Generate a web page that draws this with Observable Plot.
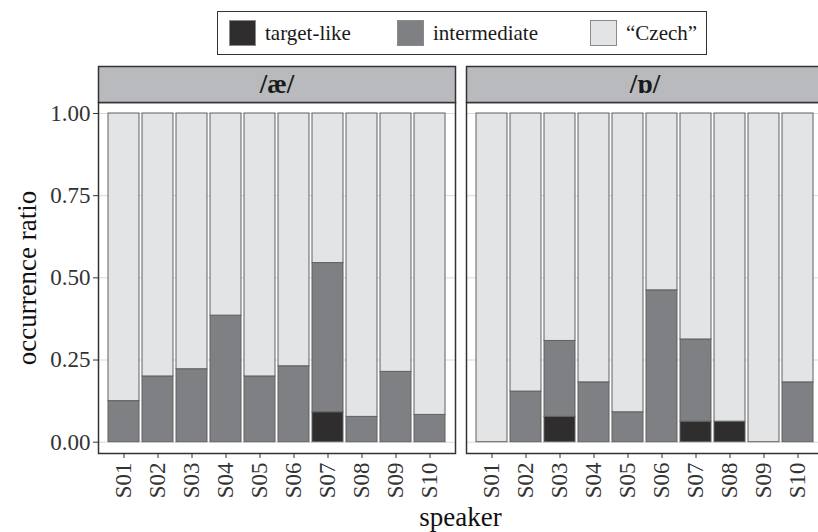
<!DOCTYPE html>
<html>
<head>
<meta charset="utf-8">
<script src="https://cdn.jsdelivr.net/npm/d3@7"></script>
<script src="https://cdn.jsdelivr.net/npm/@observablehq/plot@0.6"></script>
<style>
html, body { margin: 0; padding: 0; background: #fff; overflow: hidden; width: 818px; height: 532px; }
#legend { position: relative; height: 60px; font-family: "Liberation Serif", Tinos, "Times New Roman", Times, serif; font-size: 21px; color: #1a1a1a; }
#legend .box { position: absolute; left: 217px; top: 11px; width: 490px; height: 44px; border: 1.5px solid #333; box-sizing: border-box; }
#legend .item { position: absolute; top: 8px; display: flex; align-items: center; white-space: nowrap; }
#legend .sw { width: 27px; height: 26px; box-sizing: border-box; border: 1px solid #8a8a8a; margin-right: 9px; }
#chart svg { max-width: none !important; display: block; overflow: visible; }
#chart svg text { font-family: "Liberation Serif", Tinos, "Times New Roman", Times, serif; }
</style>
</head>
<body>
<div id="legend"><div class="box"></div></div>
<div id="chart"></div>
<script>
const speakers = ["S01", "S02", "S03", "S04", "S05", "S06", "S07", "S08", "S09", "S10"];
const vowels = ["/æ/", "/ɒ/"];
const categories = ["target-like", "intermediate", "“Czech”"];
const colors = ["#2f2d2e", "#7f8083", "#e3e4e6"];

// /æ/ panel
const aeTarget       = [0, 0, 0, 0, 0, 0, 0.091, 0, 0, 0];
const aeIntermediate = [0.125, 0.2, 0.222, 0.385, 0.2, 0.231, 0.454, 0.077, 0.214, 0.083];
const aeCzech        = [0.875, 0.8, 0.778, 0.615, 0.8, 0.769, 0.455, 0.923, 0.786, 0.917];

// /ɒ/ panel
const oTarget        = [0, 0, 0.077, 0, 0, 0, 0.0625, 0.0625, 0, 0];
const oIntermediate  = [0, 0.154, 0.231, 0.182, 0.091, 0.462, 0.25, 0, 0, 0.182];
const oCzech         = [1, 0.846, 0.692, 0.818, 0.909, 0.538, 0.6875, 0.9375, 1, 0.818];

const yTicks = [0, 0.25, 0.5, 0.75, 1];
const axisTitles = {x: "speaker", y: "occurrence ratio"};

const seriesByVowel = [[aeTarget, aeIntermediate, aeCzech], [oTarget, oIntermediate, oCzech]];
const rows = [];
vowels.forEach((v, vi) => {
  categories.forEach((c, ci) => {
    speakers.forEach((s, si) => {
      const val = seriesByVowel[vi][ci][si];
      if (val > 0) rows.push({vowel: v, speaker: s, category: c, value: val});
    });
  });
});

// Legend (HTML)
const lefts = [11, 179, 372];
const box = document.querySelector("#legend .box");
categories.forEach((c, i) => {
  const item = document.createElement("div");
  item.className = "item";
  item.style.left = lefts[i] + "px";
  const sw = document.createElement("div");
  sw.className = "sw";
  sw.style.background = colors[i];
  const tx = document.createElement("span");
  tx.textContent = c;
  item.appendChild(sw);
  item.appendChild(tx);
  box.appendChild(item);
});

const chart = Plot.plot({
  width: 823,
  height: 472,
  marginLeft: 98,
  marginRight: 0,
  marginTop: 42,
  marginBottom: 79,
  style: {fontFamily: "'Liberation Serif', Tinos, 'Times New Roman', Times, serif", fontSize: "22px", color: "#333", background: "#fff", overflow: "visible"},
  fx: {domain: vowels, paddingInner: 0.031, paddingOuter: 0, axis: null},
  x: {domain: speakers, paddingInner: 0.09, paddingOuter: 0.16, axis: null},
  y: {domain: [0, 1], insetTop: 11, insetBottom: 11.3, axis: null},
  color: {domain: categories, range: colors},
  marks: [
    Plot.gridY(yTicks, {stroke: "#dadada", strokeOpacity: 1, strokeWidth: 1}),
    Plot.barY(rows, {fx: "vowel", x: "speaker", y: "value", fill: "category", stroke: "#616161", strokeWidth: 1}),
    Plot.frame({stroke: "#333", strokeWidth: 1.5}),
    Plot.frame({fill: "#b9babd", stroke: "#333", strokeWidth: 1.5, insetTop: -36, insetBottom: 351}),
    Plot.text(vowels, {fx: d => d, text: d => d, frameAnchor: "top", dy: -18, fontSize: 27, fontWeight: "bold", fill: "#1a1a1a", textAnchor: "middle", lineAnchor: "middle"}),
    Plot.axisY(yTicks, {anchor: "left", tickFormat: d3.format(".2f"), tickSize: 5, tickPadding: 3, label: null, fontSize: 23}),
    Plot.axisX({anchor: "bottom", tickRotate: -90, tickSize: 5, tickPadding: 4, label: null, fontSize: 23}),
    Plot.text([axisTitles.y], {fx: () => vowels[0], text: d => d, frameAnchor: "left", rotate: -90, dx: -71, fontSize: 27, fill: "#111", textAnchor: "middle", lineAnchor: "middle"}),
    Plot.text([axisTitles.x], {fx: () => vowels[0], text: d => d, frameAnchor: "bottom-right", dx: 5, dy: 64, fontSize: 27, fill: "#111", textAnchor: "middle", lineAnchor: "middle"})
  ]
});
document.getElementById("chart").appendChild(chart);
</script>
</body>
</html>
